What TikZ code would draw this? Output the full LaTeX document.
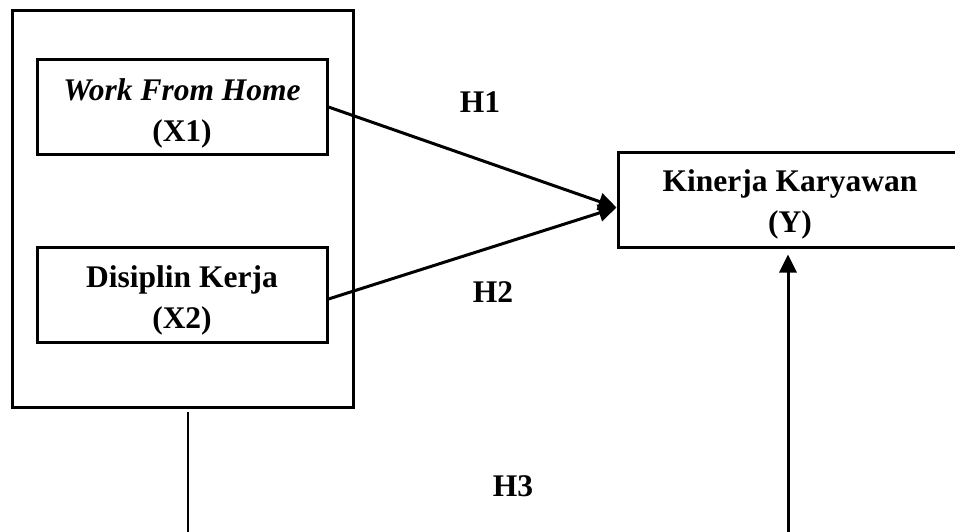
\documentclass[tikz,border=0pt]{standalone}
\usepackage{fontspec}
\setmainfont{Liberation Serif}
\usetikzlibrary{arrows.meta}
\tikzset{
  frame/.style={draw, line width=3pt, inner sep=0pt},
  varbox/.style={draw, line width=3pt, inner sep=0pt},
  vartext/.style={align=center, inner sep=0pt, yshift=-6pt,
    font=\fontsize{31.5}{41}\selectfont\bfseries},
  hyp/.style={font=\fontsize{31.5}{40}\selectfont\bfseries, inner sep=0pt},
  path/.style={line width=3pt, -{Triangle[length=18pt,width=17pt]}},
  thin/.style={line width=1.4pt}
}
\begin{document}
\begin{tikzpicture}[x=1pt,y=-1pt]
  \useasboundingbox (0,0) rectangle (955,532);
  \clip (0,0) rectangle (955,532);
  \fill[white] (0,0) rectangle (955,532);

  % group of the independent variables
  \node[frame, minimum width=341pt, minimum height=396pt] (outer) at (182.5,209) {};
  \node[varbox, minimum width=290pt, minimum height=94pt,
    label={[vartext]center:{\textit{Work From Home}\\(X1)}}] (x1) at (182,107) {};
  \node[varbox, minimum width=290pt, minimum height=95pt,
    label={[vartext]center:{Disiplin Kerja\\(X2)}}] (x2) at (182,294.5) {};

  % dependent variable
  \node[varbox, minimum width=344pt, minimum height=95pt,
    label={[vartext, yshift=1pt]center:{Kinerja Karyawan\\(Y)}}] (kin) at (790,199.5) {};

  % hypothesis paths
  \draw[path] (x1.east) -- ([yshift=-8pt]kin.west);
  \draw[path] ([yshift=-4.5pt]x2.east) -- ([yshift=-8pt]kin.west);

  \coordinate (lbot) at (188,532);
  \coordinate (ybot) at (788,532);
  \draw[thin] (lbot) -- ([yshift=-3pt]outer.south -| lbot);
  \draw[path] (ybot) -- ([yshift=-6pt]kin.south -| ybot);

  \node[hyp] (h1) at (480,102) {H1};
  \node[hyp] (h2) at (493,292) {H2};
  \node[hyp] (h3) at (513,486) {H3};
\end{tikzpicture}
\end{document}
